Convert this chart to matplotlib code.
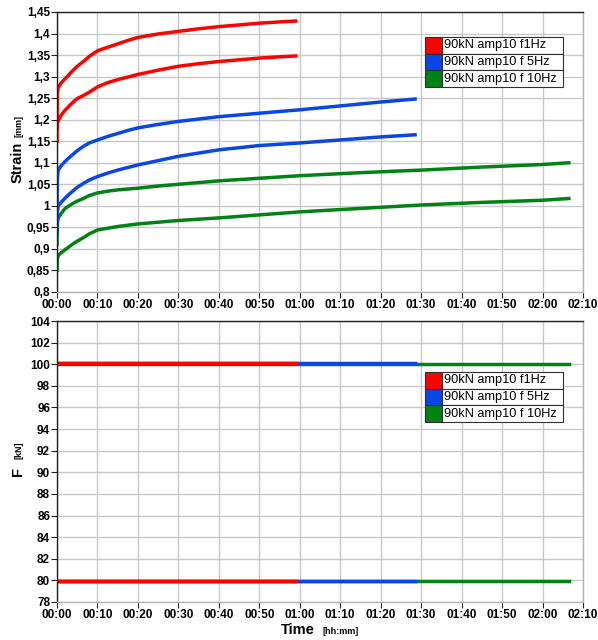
import matplotlib
matplotlib.use("Agg")
import matplotlib.pyplot as plt
from matplotlib.ticker import FixedLocator, FuncFormatter

plt.rcParams['font.family'] = ['Liberation Sans', 'DejaVu Sans']

labels = ['90kN amp10 f1Hz', '90kN amp10 f 5Hz', '90kN amp10 f 10Hz']
colors = ['#ff0000', '#0a46e6', '#008214']

# time in minutes, strain in mm
t_1hz = [0, 0.05, 0.3, 1, 2, 3, 4, 5, 6.5, 8, 10, 12.5, 15, 17.5, 20, 25, 30, 35,
         40, 45, 50, 55, 59]
strain_1hz_hi = [1.15, 1.26, 1.275, 1.285, 1.295, 1.305, 1.315, 1.324, 1.335, 1.347,
                 1.36, 1.368, 1.376, 1.384, 1.391, 1.399, 1.405, 1.411, 1.416, 1.42,
                 1.424, 1.427, 1.429]
strain_1hz_lo = [1.18, 1.19, 1.198, 1.21, 1.222, 1.232, 1.241, 1.249, 1.256, 1.264,
                 1.276, 1.286, 1.293, 1.299, 1.305, 1.315, 1.324, 1.33, 1.335, 1.339,
                 1.343, 1.346, 1.348]

t_5hz = [0, 0.05, 0.3, 1, 2, 3, 4, 5, 6.5, 8, 10, 12.5, 15, 17.5, 20, 25, 30, 40,
         50, 60, 70, 80, 88.5]
strain_5hz_hi = [0.95, 1.06, 1.083, 1.093, 1.103, 1.112, 1.12, 1.128, 1.138, 1.146,
                 1.153, 1.161, 1.168, 1.175, 1.181, 1.189, 1.196, 1.207, 1.215, 1.223,
                 1.232, 1.241, 1.248]
strain_5hz_lo = [0.94, 0.985, 1.0, 1.008, 1.018, 1.027, 1.035, 1.043, 1.052, 1.06,
                 1.068, 1.076, 1.083, 1.089, 1.095, 1.105, 1.115, 1.13, 1.14, 1.146,
                 1.153, 1.16, 1.165]

t_10hz = [0, 0.05, 0.3, 1, 2, 3, 4, 5, 6.5, 8, 10, 12.5, 15, 17.5, 20, 25, 30, 40,
          50, 60, 75, 90, 105, 120, 126.5]
strain_10hz_hi = [0.91, 0.96, 0.972, 0.982, 0.994, 1.0, 1.006, 1.011, 1.017, 1.024,
                  1.03, 1.034, 1.037, 1.039, 1.041, 1.046, 1.05, 1.058, 1.064, 1.07,
                  1.077, 1.083, 1.09, 1.096, 1.10]
strain_10hz_lo = [0.85, 0.875, 0.885, 0.891, 0.898, 0.905, 0.912, 0.918, 0.926, 0.935,
                  0.944, 0.948, 0.952, 0.955, 0.958, 0.962, 0.966, 0.972, 0.979, 0.986,
                  0.994, 1.002, 1.008, 1.013, 1.017]

# force envelope (kN): end time of each test
t_end = [59, 88.5, 126.5]
force_max = [100.1, 100.1, 100.05]
force_min = [79.9, 79.95, 79.9]

strain_t = [t_1hz, t_5hz, t_10hz]
strain_hi = [strain_1hz_hi, strain_5hz_hi, strain_10hz_hi]
strain_lo = [strain_1hz_lo, strain_5hz_lo, strain_10hz_lo]

x_ticks = list(range(0, 131, 10))
strain_ticks = [0.8, 0.85, 0.9, 0.95, 1.0, 1.05, 1.1, 1.15, 1.2, 1.25, 1.3, 1.35, 1.4, 1.45]
force_ticks = list(range(78, 105, 2))


def fmt_time(v, pos):
    v = int(round(v))
    return f"{v // 60:02d}:{v % 60:02d}"


def fmt_strain(v, pos):
    s = f"{v:.2f}".rstrip('0').rstrip('.')
    return s.replace('.', ',')


fig = plt.figure(figsize=(5.98, 6.4), dpi=100)
W, H = 598, 640
ax1 = fig.add_axes([57 / W, 1 - 292 / H, 526 / W, 280 / H])
ax2 = fig.add_axes([57 / W, 1 - 602 / H, 526 / W, 281 / H])


def style(ax, yticks, yfmt):
    ax.set_xlim(0, 130)
    ax.xaxis.set_major_locator(FixedLocator(x_ticks))
    ax.xaxis.set_major_formatter(FuncFormatter(fmt_time))
    ax.yaxis.set_major_locator(FixedLocator(yticks))
    ax.yaxis.set_major_formatter(FuncFormatter(yfmt))
    ax.grid(True, color='#c8c8c8', linewidth=1.0)
    ax.set_axisbelow(True)
    for side in ['left', 'top']:
        ax.spines[side].set_color('#202020')
        ax.spines[side].set_linewidth(1.0)
    for side in ['right', 'bottom']:
        ax.spines[side].set_color('#b4b4b4')
        ax.spines[side].set_linewidth(1.0)
    ax.tick_params(direction='out', length=4, width=0.8, color='#202020',
                   labelsize=8.5, pad=1)
    for lab in ax.get_xticklabels() + ax.get_yticklabels():
        lab.set_fontweight('bold')


def legend_table(ax, y0, y1):
    tab = ax.table(cellText=[['', l] for l in labels],
                   cellColours=[[c, 'white'] for c in colors],
                   colWidths=[0.12, 0.88], cellLoc='left',
                   bbox=[0.70, y0, 0.262, y1 - y0], zorder=5)
    tab.auto_set_font_size(False)
    tab.set_fontsize(9.2)
    for (r, c), cell in tab.get_celld().items():
        cell.set_edgecolor('#303030')
        cell.set_linewidth(0.8)
        cell.PAD = 0.02


# strain panel
for i in [2, 1, 0]:
    ax1.plot(strain_t[i], strain_hi[i], color=colors[i], linewidth=2.5)
    ax1.plot(strain_t[i], strain_lo[i], color=colors[i], linewidth=2.5)
ax1.set_ylim(0.8, 1.45)
style(ax1, strain_ticks, fmt_strain)
legend_table(ax1, 0.732, 0.911)

# force panel
for i in [2, 1, 0]:
    ax2.plot([0, t_end[i]], [force_max[i], force_max[i]], color=colors[i], linewidth=2.5)
    ax2.plot([0, t_end[i]], [force_min[i], force_min[i]], color=colors[i], linewidth=2.5)
ax2.set_ylim(78, 104)
style(ax2, force_ticks, lambda v, p: f"{int(v)}")
legend_table(ax2, 0.64, 0.819)

# axis titles with small unit text
fig.text(18 / W, 1 - 162 / H, 'Strain', rotation=90, ha='center', va='center',
         fontsize=10.5, fontweight='bold')
fig.text(19 / W, 1 - 126 / H, '[mm]', rotation=90, ha='center', va='center',
         fontsize=6.5, fontweight='bold')
fig.text(18 / W, 1 - 471 / H, 'F', rotation=90, ha='center', va='center',
         fontsize=10.5, fontweight='bold')
fig.text(19 / W, 1 - 450 / H, '[kN]', rotation=90, ha='center', va='center',
         fontsize=6.5, fontweight='bold')
fig.text(298 / W, 1 - 630 / H, 'Time', ha='center', va='center',
         fontsize=10.5, fontweight='bold')
fig.text(341 / W, 1 - 631 / H, '[hh:mm]', ha='center', va='center',
         fontsize=6.5, fontweight='bold')

fig.savefig('out.png', dpi=100)
